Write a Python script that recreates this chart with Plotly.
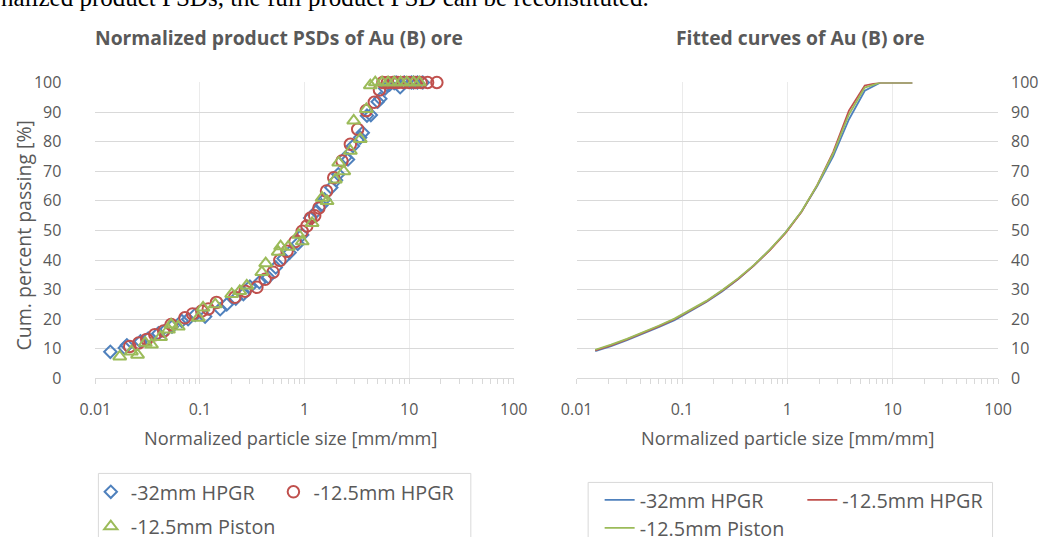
import plotly.graph_objects as go

# ---------------- data ----------------
series_names = ["-32mm HPGR", "-12.5mm HPGR", "-12.5mm Piston"]

# Normalized product PSDs (measured points)
hpgr32_x = [0.0139, 0.0191, 0.020, 0.027, 0.032, 0.040, 0.046, 0.054, 0.067, 0.077,
            0.090, 0.112, 0.156, 0.18, 0.22, 0.26, 0.30, 0.37, 0.45, 0.53, 0.63,
            0.72, 0.86, 0.95, 1.13, 1.3, 1.45, 1.55, 1.8, 2.0, 2.1, 2.45, 2.6, 2.9,
            3.4, 3.6, 3.95, 4.3, 5.0, 5.3, 5.9, 6.2, 6.5, 7.2, 7.5, 8.2, 9.0, 10.5,
            11.0, 12.0, 13.5]
hpgr32_y = [9.0, 10.3, 11.2, 12.5, 13.5, 15.2, 16.0, 17.5, 19.4, 20.0,
            21.5, 20.9, 23.4, 25.0, 27.0, 28.5, 31.0, 32.5, 34.2, 37.5, 40.5,
            42.5, 45.5, 48.5, 54.2, 56.5, 58.5, 60.5, 64.5, 67.0, 69.0, 74.6, 74.0, 78.5,
            81.4, 83.0, 88.8, 89.0, 93.5, 94.5, 98.0, 99.0, 99.3, 99.8, 100, 98.4, 100, 100,
            100, 100, 100]

hpgr125_x = [0.0213, 0.026, 0.031, 0.037, 0.045, 0.053, 0.0718, 0.085, 0.104, 0.12,
             0.144, 0.215, 0.27, 0.35, 0.42, 0.50, 0.58, 0.68, 0.81, 0.95, 1.05,
             1.14, 1.25, 1.37, 1.62, 1.90, 2.28, 2.74, 3.22, 3.89, 4.64, 5.2, 5.6,
             6.2, 7.0, 7.8, 8.8, 10.0, 11.5, 13.0, 15.0, 18.4]
hpgr125_y = [10.8, 12.0, 13.2, 14.8, 16.0, 18.2, 20.5, 21.8, 22.8, 23.5,
             25.7, 27.4, 29.5, 30.8, 33.5, 35.9, 39.9, 43.0, 46.2, 49.7, 51.5,
             54.2, 55.0, 57.6, 63.3, 67.8, 73.5, 79.1, 84.2, 90.5, 93.3, 97.5, 100,
             100, 100, 100, 100, 100, 100, 100, 100, 100]

piston_x = [0.0171, 0.0221, 0.0253, 0.030, 0.0344, 0.042, 0.050, 0.053, 0.062, 0.0964,
            0.107, 0.14, 0.201, 0.24, 0.28, 0.39, 0.425, 0.56, 0.59, 0.70, 0.88,
            0.95, 1.18, 1.47, 1.64, 1.97, 2.12, 2.37, 2.74, 2.95, 3.41, 3.9, 4.25,
            4.74, 5.5, 6.3, 7.2, 8.3, 9.5, 11.0, 12.5]
piston_y = [7.4, 9.1, 8.0, 12.0, 11.4, 14.0, 16.5, 18.2, 17.5, 20.5,
            23.9, 25.0, 28.5, 29.5, 31.4, 35.9, 38.9, 42.8, 44.6, 44.5, 48.5,
            46.3, 52.5, 61.0, 59.9, 67.2, 72.9, 70.0, 76.9, 87.1, 80.9, 91.0, 99.0,
            100, 100, 100, 100, 100, 100, 100, 100]

# Fitted curves
fit_x = [0.015, 0.0212, 0.03, 0.0424, 0.06, 0.0849, 0.12, 0.17, 0.24, 0.34, 0.48,
         0.68, 0.96, 1.36, 1.92, 2.72, 3.84, 5.43, 7.68, 10.86, 15.36]
fit_hpgr32_y = [9.2, 10.9, 12.9, 15.0, 17.3, 19.7, 22.6, 25.8, 29.4, 33.5, 38.1,
                43.4, 49.3, 56.3, 65.0, 75.0, 87.5, 97.2, 100, 100, 100]
fit_hpgr125_y = [9.5, 11.2, 13.2, 15.3, 17.6, 20.0, 22.9, 26.0, 29.6, 33.6, 38.1,
                 43.3, 49.1, 56.2, 65.3, 76.5, 90.5, 99.0, 100, 100, 100]
fit_piston_y = [9.7, 11.4, 13.4, 15.5, 17.8, 20.2, 23.1, 26.2, 29.8, 33.8, 38.3,
                43.5, 49.3, 56.4, 65.3, 76.0, 89.2, 98.3, 100, 100, 100]

x_tick_vals = [0.01, 0.1, 1, 10, 100]
x_tick_labels = ["0.01", "0.1", "1", "10", "100"]
y_tick_vals = [0, 10, 20, 30, 40, 50, 60, 70, 80, 90, 100]

left_title = "Normalized product PSDs of Au (B) ore"
right_title = "Fitted curves of Au (B) ore"
x_title = "Normalized particle size [mm/mm]"
y_title = "Cum. percent passing [%]"
page_text = "nalized product PSDs, the full product PSD can be reconstituted."

# ---------------- styling ----------------
W, H = 1055, 548
BLUE, RED, GREEN = "#4F81BD", "#C0504D", "#9BBB59"
TXT = "#595959"
FONT = "Open Sans"
GRID_H = "#D9D9D9"
GRID_V = "#EBEBEB"

# the photographed page shows the figure slightly inset and scaled;
# positions below are given in picture pixels and mapped onto the paper
SX, OX = 0.973, 14.5
SY, OY = 0.96, 11.0


def fx(X):
    return ((X - OX) / SX) / W


def fy(Y):
    return 1 - ((Y - OY) / SY) / H


minor_vals = [m * 10 ** e for e in range(-2, 2) for m in range(2, 10)]

fig = go.Figure()

markers = [
    (hpgr32_x, hpgr32_y, "diamond-open", 9.5, BLUE),
    (hpgr125_x, hpgr125_y, "circle-open", 11.5, RED),
    (piston_x, piston_y, "triangle-up-open", 11.5, GREEN),
]
for i, (xs, ys, sym, sz, col) in enumerate(markers):
    fig.add_trace(go.Scatter(
        x=xs, y=ys, mode="markers", name=series_names[i],
        marker=dict(symbol=sym, size=sz, color=col, line=dict(width=2, color=col)),
        xaxis="x", yaxis="y", legend="legend" if i == 0 else f"legend{i + 1}",
        cliponaxis=False,
    ))

fits = [(fit_hpgr32_y, BLUE), (fit_hpgr125_y, RED), (fit_piston_y, GREEN)]
for i, (ys, col) in enumerate(fits):
    fig.add_trace(go.Scatter(
        x=fit_x, y=ys, mode="lines", name=series_names[i],
        line=dict(color=col, width=1.8),
        xaxis="x2", yaxis="y2", legend=f"legend{i + 4}",
    ))

x_common = dict(
    type="log", range=[-2, 2], tickmode="array", tickvals=x_tick_vals, ticktext=x_tick_labels,
    showgrid=True, gridcolor=GRID_V, gridwidth=1,
    showline=True, linecolor=GRID_H, linewidth=1,
    ticks="outside", ticklen=5, tickcolor=GRID_H,
    minor=dict(tickvals=minor_vals, ticks="outside", ticklen=5, tickcolor=GRID_H, showgrid=False),
    tickfont=dict(family=FONT, size=16, color=TXT),
    ticklabelstandoff=11, zeroline=False,
)
y_common = dict(
    range=[0, 100], tickmode="array", tickvals=y_tick_vals,
    showgrid=True, gridcolor=GRID_H, gridwidth=1, zeroline=False,
    showline=False, ticks="",
    tickfont=dict(family=FONT, size=16, color=TXT),
)

fig.update_layout(
    width=W, height=H, margin=dict(l=0, r=0, t=0, b=0),
    paper_bgcolor="white", plot_bgcolor="white",
    font=dict(family=FONT, color=TXT),
    xaxis=dict(domain=[fx(94), fx(513)], anchor="y", **x_common),
    yaxis=dict(domain=[fy(378.5), fy(82.5)], anchor="x", side="left",
               ticklabelstandoff=33, **y_common),
    xaxis2=dict(domain=[fx(576), fx(998)], anchor="y2", **x_common),
    yaxis2=dict(domain=[fy(378.5), fy(82.5)], anchor="x2", side="right",
                ticklabelstandoff=12, **y_common),
    showlegend=True,
)

# legends: one per entry, placed like the original boxes (picture pixels)
leg_font = dict(family=FONT, size=19.8, color=TXT)
leg_pos = {
    "legend": (89.4, 492), "legend2": (272.3, 492), "legend3": (89.4, 526.5),
    "legend4": (599, 500), "legend5": (802, 500), "legend6": (599, 528),
}
for k, (lx, ly) in leg_pos.items():
    fig.update_layout({k: dict(x=fx(lx), y=fy(ly), xanchor="left", yanchor="middle",
                               orientation="h", bgcolor="rgba(0,0,0,0)", borderwidth=0,
                               font=leg_font)})

# legend frames (open at the bottom edge, as in the cropped original)
for x0, x1, ytop in [(97, 470, 473.5), (587.5, 992.5, 482.5)]:
    fig.add_shape(type="path", xref="paper", yref="paper",
                  path=(f"M {fx(x0)} 0 L {fx(x0)} {fy(ytop)} "
                        f"L {fx(x1)} {fy(ytop)} L {fx(x1)} 0"),
                  line=dict(color=GRID_H, width=1))

ann = [
    dict(text=left_title, x=fx(278), y=fy(38), font=dict(family=FONT, size=19.3, color=TXT, weight="bold")),
    dict(text=right_title, x=fx(800), y=fy(38), font=dict(family=FONT, size=19.3, color=TXT, weight="bold")),
    dict(text=x_title, x=fx(289), y=fy(438), font=dict(family=FONT, size=18.2, color=TXT)),
    dict(text=x_title, x=fx(787), y=fy(438), font=dict(family=FONT, size=18.2, color=TXT)),
    dict(text=y_title, x=fx(22), y=fy(235), textangle=-90, font=dict(family=FONT, size=19.5, color=TXT)),
]
for a in ann:
    fig.add_annotation(xref="paper", yref="paper", showarrow=False,
                       xanchor="center", yanchor="middle", **a)

# cropped line of page text above the charts (cut at the top edge)
fig.add_annotation(xref="paper", yref="paper", showarrow=False, text=page_text,
                   x=fx(-3), y=fy(-3), xanchor="left", yanchor="middle",
                   font=dict(family="Liberation Serif", size=25, color="#000000"))

fig.write_html("out.html")
